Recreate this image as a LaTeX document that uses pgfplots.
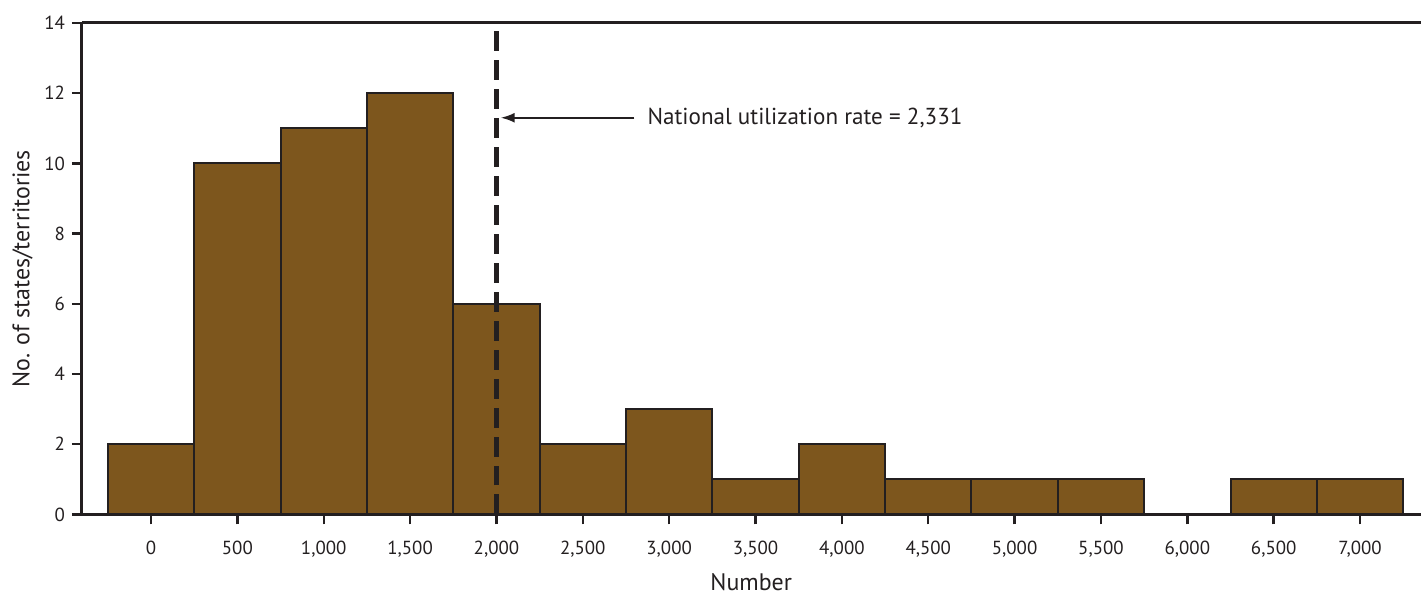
\documentclass[border=0pt]{standalone}
\usepackage{pgfplots}
\pgfplotsset{compat=1.18}
\usetikzlibrary{arrows.meta}
\usepackage{fontspec}
\setmainfont{PT Sans}
\definecolor{barfill}{HTML}{7D561D}
\definecolor{ink}{HTML}{231F20}
\begin{document}
\begin{tikzpicture}
\begin{axis}[
  scale only axis,
  width=670bp, height=246bp,
  xmin=-400, xmax=7350,
  ymin=0, ymax=14,
  axis x line=box, axis y line=left,
  axis line style={ink, line width=1.5bp, -},
  xtick={0,500,...,7000},
  ytick={0,2,...,14},
  xtick pos=bottom, ytick pos=left,
  tick align=outside,
  major tick length=5bp,
  tick style={ink, line width=1.2bp},
  /pgf/number format/assume math mode=true,
  /pgf/number format/1000 sep={,},
  ticklabel style={font=\fontsize{9.5}{11}\selectfont, text=ink},
  xticklabel style={yshift=-5bp},
  xlabel={Number},
  ylabel={No. of states/territories},
  label style={font=\fontsize{12}{14}\selectfont, text=ink},
  xlabel style={yshift=-1bp},
  ylabel style={yshift=-1bp},
  ybar, bar width=500, bar shift=0pt,
  clip=false,
]
\addplot[fill=barfill, draw=ink, line width=1bp] coordinates {
 (0,2) (500,10) (1000,11) (1500,12) (2000,6) (2500,2) (3000,3) (3500,1)
 (4000,2) (4500,1) (5000,1) (5500,1) (6500,1) (7000,1)
};
\draw[ink, line width=2.5bp, dash pattern=on 10bp off 4.5bp] (axis cs:2000,0) -- (axis cs:2000,14);
\draw[ink, line width=1bp, -{Latex[length=7bp,width=5bp]}] (axis cs:2798,11.3) -- (axis cs:2025,11.3);
\node[anchor=west, inner sep=0pt, text=ink, font=\fontsize{11.6}{14}\selectfont] at (axis cs:2873,11.3) {National utilization rate = 2,331};
\path (rel axis cs:0,1) ++(-41bp,11.5bp) coordinate (tl);
\path[use as bounding box] (tl) rectangle (rel axis cs:1,0);
\end{axis}
\end{tikzpicture}
\end{document}
